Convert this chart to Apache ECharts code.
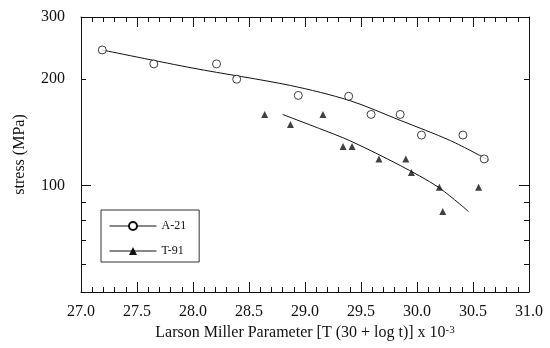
<!DOCTYPE html>
<html>
<head>
<meta charset="utf-8">
<script src="https://cdn.jsdelivr.net/npm/echarts@6/dist/echarts.min.js"></script>
<style>
  html, body { margin: 0; padding: 0; background: #fff; }
  #chart { width: 550px; height: 348px; }
</style>
</head>
<body>
<div id="chart"></div>
<script>
// measured points
const a21X = [27.19, 27.65, 28.21, 28.39, 28.94, 29.39, 29.59, 29.85, 30.04, 30.41, 30.60]
const a21Y = [242, 221, 221, 200, 180, 179, 159, 159, 139, 139, 119]
const t91X = [28.64, 28.87, 29.16, 29.34, 29.42, 29.66, 29.90, 29.95, 30.20, 30.55, 30.23]
const t91Y = [159, 149, 159, 129, 129, 119, 119, 109, 99, 99, 84.5]

// fitted curves
const a21FitX = [27.19, 28.0, 28.87, 29.40, 29.85, 30.30, 30.64]
const a21FitY = [242, 215, 192, 174, 153, 134, 118]
const t91FitX = [28.80, 29.13, 29.40, 29.85, 30.19, 30.46]
const t91FitY = [159, 145, 134, 114, 99, 84.5]

// log axis ticks
const yLabels = [100, 200, 300]
const yMajorTicks = [100]
const yMinorTicks = [60, 70, 80, 90, 200, 300]

const font = "Liberation Serif"
const ink = "#111"

const zip = (xs, ys) => xs.map((x, i) => [x, ys[i]])

const chart = echarts.init(document.getElementById("chart"))

const xBase = {
  type: "value",
  min: 27,
  max: 31,
  interval: 0.5,
  axisLine: { show: true, onZero: false, lineStyle: { color: ink, width: 1 } },
  axisTick: { show: true, inside: true, length: 10, lineStyle: { color: ink, width: 1 } },
  minorTick: { show: true, splitNumber: 5, length: 5, lineStyle: { color: ink, width: 1 } },
  splitLine: { show: false },
}

const yBase = {
  type: "log",
  logBase: 10,
  min: 50,
  max: 300,
  axisLine: { show: false },
  axisLabel: { show: false },
  splitLine: { show: false },
  minorTick: { show: false },
}

const tick = (values, length) => ({
  show: true,
  inside: true,
  length: length,
  customValues: values,
  lineStyle: { color: ink, width: 1 },
})

const option = {
  animation: false,
  backgroundColor: "#fff",
  grid: { left: 81, right: 21, top: 17, bottom: 56 },
  legend: {
    data: ["A-21", "T-91"],
    orient: "vertical",
    left: 101,
    top: 210,
    padding: [10, 13, 5, 8],
    itemWidth: 47,
    itemHeight: 10,
    itemGap: 13,
    borderColor: "#333",
    borderWidth: 1,
    selectedMode: false,
    lineStyle: { width: 1 },
    textStyle: { fontFamily: font, fontSize: 12, color: ink },
  },
  xAxis: [
    {
      ...xBase,
      position: "bottom",
      axisLabel: {
        fontFamily: font,
        fontSize: 16,
        color: ink,
        margin: 12,
        formatter: (v) => v.toFixed(1),
      },
      name: "{n|Larson Miller Parameter [T (30 + log t)] x 10}{s|-3}",
      nameLocation: "middle",
      nameGap: 33,
      nameTextStyle: {
        fontFamily: font,
        fontSize: 16,
        color: ink,
        rich: {
          n: { fontFamily: font, fontSize: 16, color: ink },
          s: { fontFamily: font, fontSize: 11, color: ink, verticalAlign: "top" },
        },
      },
    },
    { ...xBase, position: "top", axisLabel: { show: false } },
  ],
  yAxis: [
    {
      ...yBase,
      position: "left",
      axisLine: { show: true, lineStyle: { color: ink, width: 1 } },
      axisTick: tick(yMajorTicks, 10),
      axisLabel: {
        show: true,
        customValues: yLabels,
        fontFamily: font,
        fontSize: 16,
        color: ink,
        margin: 16,
      },
      name: "stress (MPa)",
      nameLocation: "middle",
      nameGap: 53,
      nameTextStyle: { fontFamily: font, fontSize: 16, color: ink },
    },
    { ...yBase, position: "left", axisTick: tick(yMinorTicks, 5) },
    {
      ...yBase,
      position: "right",
      axisLine: { show: true, lineStyle: { color: ink, width: 1 } },
      axisTick: tick(yMajorTicks, 10),
    },
    { ...yBase, position: "right", axisTick: tick(yMinorTicks, 5) },
  ],
  series: [
    {
      name: "A-21",
      type: "line",
      data: zip(a21FitX, a21FitY),
      smooth: 0.3,
      symbol: "circle",
      showSymbol: false,
      itemStyle: { color: "#fff", borderColor: ink, borderWidth: 1 },
      lineStyle: { color: ink, width: 1 },
      z: 2,
    },
    {
      name: "T-91",
      type: "line",
      data: zip(t91FitX, t91FitY),
      smooth: 0.3,
      symbol: "triangle",
      showSymbol: false,
      itemStyle: { color: ink },
      lineStyle: { color: ink, width: 1 },
      z: 2,
    },
    {
      name: "A-21",
      type: "scatter",
      data: zip(a21X, a21Y),
      symbol: "circle",
      symbolSize: 8,
      itemStyle: { color: "#fff", borderColor: ink, borderWidth: 1 },
      z: 3,
    },
    {
      name: "T-91",
      type: "scatter",
      data: zip(t91X, t91Y),
      symbol: "triangle",
      symbolSize: 7,
      itemStyle: { color: ink },
      z: 3,
    },
  ],
}

chart.setOption(option)

const handleResize = () => {
  chart.resize()
}

window.addEventListener("resize", handleResize)
</script>
</body>
</html>
